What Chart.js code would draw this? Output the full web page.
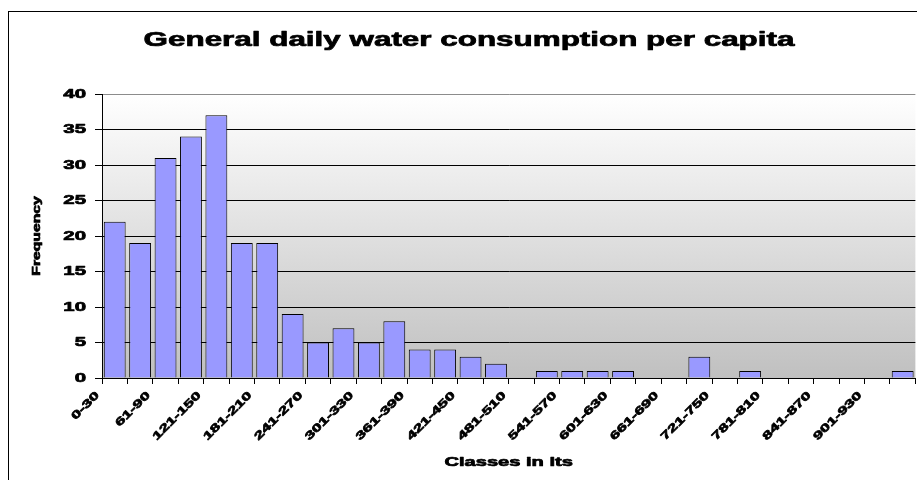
<!DOCTYPE html>
<html><head><meta charset="utf-8">
<script src="https://cdn.jsdelivr.net/npm/chart.js@4/dist/chart.umd.min.js"></script>
<style>html,body{margin:0;padding:0;background:#fff;overflow:hidden}canvas{display:block}</style>
</head><body>
<canvas id="c" width="917" height="480"></canvas>
<script>
const categories = ['0-30','31-60','61-90','91-120','121-150','151-180','181-210','211-240','241-270','271-300',
  '301-330','331-360','361-390','391-420','421-450','451-480','481-510','511-540','541-570','571-600',
  '601-630','631-660','661-690','691-720','721-750','751-780','781-810','811-840','841-870','871-900',
  '901-930','931-960'];
const frequency = [22,19,31,34,37,19,19,9,5,7,5,8,4,4,3,2,0,1,1,1,1,0,0,3,0,1,0,0,0,0,0,1];
const yTicks = [0,5,10,15,20,25,30,35,40];
const titleText = 'General daily water consumption per capita';
const xTitle = 'Classes in lts';
const yTitle = 'Frequency';

// wide, heavy lettering as in the reference
const S = 1.57;
const cv = document.getElementById('c');
const c2d = cv.getContext('2d');
const origFill = c2d.fillText.bind(c2d);
const origStroke = c2d.strokeText.bind(c2d);
const origMeasure = c2d.measureText.bind(c2d);
c2d.fillText = function(t, x, y, mw) {
  this.save(); this.translate(x, y); this.scale(S, 1);
  const hasMw = (mw !== undefined && mw !== null);
  if (hasMw) origFill(t, 0, 0, mw / S); else origFill(t, 0, 0);
  this.lineWidth = 0.7;
  this.lineJoin = 'round';
  this.strokeStyle = this.fillStyle;
  if (hasMw) origStroke(t, 0, 0, mw / S); else origStroke(t, 0, 0);
  this.restore();
};
c2d.measureText = function(t) {
  const m = origMeasure(t);
  return {
    width: m.width * S,
    actualBoundingBoxAscent: m.actualBoundingBoxAscent,
    actualBoundingBoxDescent: m.actualBoundingBoxDescent,
    actualBoundingBoxLeft: m.actualBoundingBoxLeft * S,
    actualBoundingBoxRight: m.actualBoundingBoxRight * S,
    fontBoundingBoxAscent: m.fontBoundingBoxAscent,
    fontBoundingBoxDescent: m.fontBoundingBoxDescent
  };
};

const bgPlugin = {
  id: 'bg',
  beforeDraw(chart) {
    const {ctx, chartArea: a} = chart;
    ctx.save();
    ctx.fillStyle = '#fff';
    ctx.fillRect(0, 0, chart.width, chart.height);
    ctx.strokeStyle = '#000';
    ctx.lineWidth = 1;
    ctx.strokeRect(8.5, 11.5, 2000, 2000);
    const g = ctx.createLinearGradient(0, a.top, 0, a.bottom);
    g.addColorStop(0, '#ffffff');
    g.addColorStop(1, '#c0c0c0');
    ctx.fillStyle = g;
    ctx.fillRect(a.left, a.top, a.right - a.left, a.bottom - a.top);
    ctx.restore();
  }
};

const FONT = "'Liberation Sans', Arial, sans-serif";

new Chart(c2d, {
  type: 'bar',
  data: {
    labels: categories,
    datasets: [{
      data: frequency,
      backgroundColor: '#9999ff',
      borderColor: '#000',
      borderWidth: 1,
      categoryPercentage: 1,
      barPercentage: 0.86
    }]
  },
  options: {
    responsive: false,
    animation: false,
    devicePixelRatio: 1,
    layout: {padding: {left: 21, right: 0, top: 0, bottom: 0}},
    plugins: {
      legend: {display: false},
      tooltip: {enabled: false},
      title: {
        display: true,
        text: titleText,
        color: '#000',
        font: {family: FONT, size: 20, weight: 'bold', lineHeight: 1.2},
        padding: {top: 28, bottom: 42}
      }
    },
    scales: {
      x: {
        offset: true,
        grid: {offset: true, drawOnChartArea: false, drawTicks: true, tickLength: 6, tickColor: '#000', color: '#000'},
        border: {display: true, color: '#000', width: 1},
        ticks: {
          autoSkip: false,
          minRotation: 45,
          maxRotation: 45,
          padding: 5,
          labelOffset: -17,
          color: '#000',
          font: {family: FONT, size: 11, weight: 'bold'},
          callback: function(v, i) { return i % 2 === 0 ? categories[i] : ''; }
        },
        title: {
          display: true,
          text: xTitle,
          color: '#000',
          font: {family: FONT, size: 12.8, weight: 'bold', lineHeight: 1.2},
          padding: {top: 0, bottom: 10}
        },
        afterFit(s) { s.height = 102; }
      },
      y: {
        min: yTicks[0],
        max: yTicks[yTicks.length - 1],
        grid: {
          drawTicks: true, tickLength: 7, tickColor: '#000',
          color: (ctx) => (ctx.tick && ctx.tick.value === yTicks[yTicks.length - 1]) ? '#8c8c8c' : '#000'
        },
        border: {display: true, color: '#000', width: 1},
        ticks: {
          stepSize: yTicks[1] - yTicks[0],
          padding: 9,
          color: '#000',
          font: {family: FONT, size: 13, weight: 'bold'}
        },
        title: {
          display: true,
          text: yTitle,
          color: '#000',
          font: {family: FONT, size: 10, weight: 'bold', lineHeight: 1.2},
          padding: {top: 10, bottom: 0}
        },
        afterFit(s) { s.width = 81; }
      }
    }
  },
  plugins: [bgPlugin]
});
</script>
</body></html>
